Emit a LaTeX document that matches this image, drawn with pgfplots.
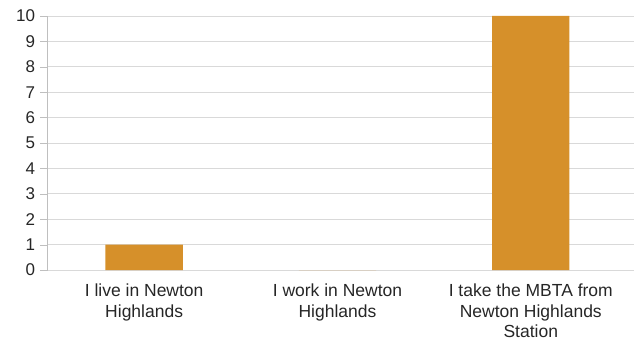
\documentclass[border=0pt]{standalone}
\usepackage{fontspec}
\setmainfont{Liberation Sans}
\usepackage{pgfplots}
\pgfplotsset{compat=1.18}
\definecolor{barorange}{HTML}{D6902A}
\definecolor{gridgray}{HTML}{D9D9D9}
\definecolor{axgray}{HTML}{BFBFBF}
\begin{document}
\begin{tikzpicture}
\path[use as bounding box] (0,0) rectangle (634bp,341bp);
\begin{axis}[
  at={(47.5bp,71bp)}, anchor=south west,
  scale only axis,
  width=586.5bp, height=254bp,
  xmin=-0.5, xmax=2.534,
  ymin=0, ymax=10,
  ytick={0,1,...,10},
  xtick={0,1,2},
  xticklabels={{I live in Newton\\Highlands},{I work in Newton\\Highlands},{I take the MBTA from\\Newton Highlands\\Station}},
  x tick label style={align=center, font=\fontsize{17.5bp}{20.3bp}\selectfont, text=black!85, yshift=-3.5bp},
  y tick label style={font=\fontsize{17bp}{19bp}\selectfont, text=black!85, xshift=-2bp},
  /pgf/number format/assume math mode=true,
  major x tick style={draw=none},
  extra x ticks={-0.5,0.5,1.5},
  extra x tick labels={},
  extra x tick style={major tick length=6bp, tick style={draw=axgray}, tick align=outside, grid=none},
  ytick style={draw=axgray},
  major tick length=7bp,
  tick align=outside,
  ymajorgrids,
  grid style={draw=gridgray, line width=0.8pt},
  axis x line*=bottom, axis y line*=left,
  axis line style={draw=axgray, line width=0.8pt},
  x axis line style={draw=gridgray},
  tick pos=left,
  ybar, bar width=0.4,
  clip=false,
]
\addplot[fill=barorange, draw=none] coordinates {(0,1) (1,0) (2,10)};
\end{axis}
\end{tikzpicture}
\end{document}
